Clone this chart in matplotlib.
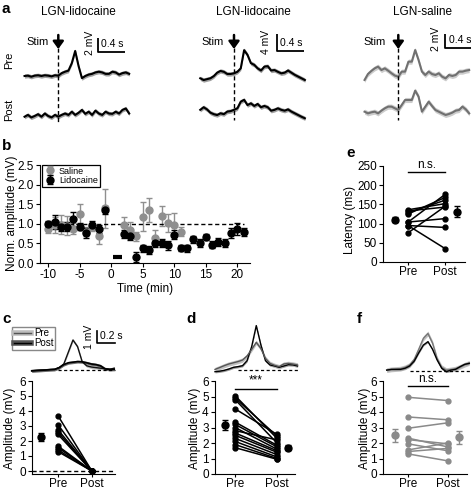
import matplotlib
matplotlib.use("Agg")
import matplotlib.pyplot as plt
import numpy as np
from matplotlib.lines import Line2D

plt.rcParams.update({
    "font.family": ["Liberation Sans", "DejaVu Sans"],
    "font.size": 8,
    "axes.unicode_minus": False,
    "axes.linewidth": 0.8,
    "xtick.major.width": 0.8,
    "ytick.major.width": 0.8,
    "xtick.major.size": 3,
    "ytick.major.size": 3,
    "xtick.major.pad": 1.5,
    "ytick.major.pad": 1.5,
})

W, H = 471, 493

# ── a: example traces (mV), sampled every 50 ms from -0.5 s ──────────────
t_a = np.arange(32) * 0.05 - 0.5
lido1_pre = [0, 0.05, -0.1, 0.05, 0.1, 0, 0.1, 0.05, -0.05, 0.1, 0.05, 0.4, 0.6, 0.75, 1.8, 3.5,
             1.4, -0.3, 0.0, 0.2, 0.3, 0.5, 0.6, 0.5, 0.3, 0.3, 0.6, 0.5, 0.2, 0.4, 0.5, 0.3]
lido1_post = [-0.1, 0.15, -0.2, 0, 0.25, -0.1, 0.35, 0, -0.2, 0.15, -0.1, 0.15, 0.35, 0.15, 0.6, 0.15,
              0.45, 0.85, 0.3, 0.6, 0.15, 0.75, 0.35, 0.15, 0.6, 0.35, 0.3, 0.6, 0.35, 0.85, 1.05, 0.35]
lido2_pre = [0, -0.4, -0.2, 0, 0.5, 1.3, 1.7, 1.5, 1.0, 1.0, 1.15, 1.5, 2.3, 6.5, 5.4, 3.5,
             3.1, 2.3, 1.8, 2.7, 2.8, 1.8, 1.9, 1.5, 1.15, 1.3, 1.8, 1.3, 0.8, 0.4, 0, -0.4]
lido2_post = [0.8, 1.4, 0.9, 0.15, -0.2, -0.4, 0, -0.2, 0.4, 0.5, 0.8, 1.15, 2.7, 3.1, 1.9, 2.3,
              1.7, 2.15, 1.4, 1.7, 1.4, 0.6, 0.8, 1.15, 0.8, 0.6, 0.9, 0.4, 0, -0.4, -0.8, -1.15]
sal_pre = [-0.62, 0.12, 0.5, 0.83, 1.04, 0.62, 0.83, 0.54, 0.21, -0.08, -0.21, 0.42, 0.42, 1.67, 1.67, 3.12,
           1.87, 0.42, 0, 0.42, 0.12, 0, 0.21, -0.21, -0.42, 0, -0.12, 0, 0.42, 0.42, 0.54, 0.62]
sal_post = [-0.21, -0.42, -0.29, -0.21, -0.42, -0.08, 0.21, 0.42, 0.42, 0.21, 0, 0.62, 1.25, 1.25, 1.25, 2.42,
            1.67, -0.21, 0.42, 1.04, 0.5, 0, -0.21, -0.42, -0.62, -0.5, -0.33, -0.08, 0, 0.42, 0.08, -0.42]

# ── b: time course ───────────────────────────────────────────────────────
t_sal = [-10, -9, -8, -7, -6, -5, -4, -3, -2, -1, 2, 3, 4, 5, 6, 7, 8, 9, 10, 11]
amp_sal = [0.88, 0.97, 0.98, 0.95, 0.88, 1.25, 0.8, 0.92, 0.68, 1.4, 0.98, 0.85, 0.68, 1.18, 1.35, 0.65,
           1.2, 1.03, 0.98, 0.8]
err_sal = [0.12, 0.2, 0.24, 0.24, 0.13, 0.26, 0.12, 0.1, 0.2, 0.5, 0.2, 0.19, 0.12, 0.37, 0.31, 0.2,
           0.25, 0.23, 0.3, 0.12]
t_lido = [-10, -9, -8, -7, -6, -5, -4, -3, -2, -1, 2, 3, 4, 5, 6, 7, 8, 9, 10, 11, 12, 13, 14, 15, 16,
          17, 18, 19, 20, 21]
amp_lido = [1.0, 1.05, 0.93, 0.93, 1.13, 0.93, 0.77, 0.98, 0.87, 1.35, 0.75, 0.68, 0.15, 0.37, 0.33, 0.5,
            0.52, 0.45, 0.72, 0.38, 0.37, 0.6, 0.52, 0.66, 0.47, 0.54, 0.5, 0.77, 0.86, 0.8]
err_lido = [0.08, 0.18, 0.12, 0.12, 0.18, 0.1, 0.12, 0.1, 0.1, 0.1, 0.1, 0.1, 0.12, 0.1, 0.1, 0.1,
            0.1, 0.12, 0.12, 0.07, 0.1, 0.1, 0.1, 0.08, 0.1, 0.1, 0.1, 0.12, 0.15, 0.1]
drug_on = (0.3, 1.7)

# ── c, d, f: average traces (mV) every 50 ms, and paired amplitudes ─────
t_in = np.arange(19) * 0.05
c_pre_tr = [-0.05, -0.03, 0, 0, 0.03, 0.05, 0.2, 0.5, 1.5, 2.5, 1.95, 0.7, 0.35, 0.25, 0.2, 0.15, 0.1, 0.05, 0.15]
c_post_tr = [-0.08, -0.05, -0.03, 0, 0.03, 0.05, 0.2, 0.45, 0.6, 0.65, 0.7, 0.68, 0.6, 0.5, 0.45, 0.35, 0.1, 0.05, 0.05]
d_pre_tr = [-0.14, -0.1, -0.03, 0.08, 0.22, 0.28, 0.36, 0.78, 1.95, 3.7, 2.1, 0.78, 0.42, 0.33, 0.22, 0.33,
            0.44, 0.42, 0.33]
d_post_tr = [0.05, 0.2, 0.36, 0.5, 0.6, 0.7, 0.83, 1.17, 1.72, 2.3, 1.8, 0.97, 0.55, 0.39, 0.28, 0.5, 0.55,
             0.5, 0.42]
f_pre_tr = [0.05, 0.11, 0.14, 0.17, 0.28, 0.47, 0.94, 1.8, 2.7, 3.1, 2.3, 1.0, 0.28, 0.05, 0.1, 0.17, 0.33,
            0.5, 0.65]
f_post_tr = [0.05, 0.11, 0.11, 0.11, 0.2, 0.39, 0.8, 1.5, 2.14, 2.42, 1.78, 0.89, 0.2, -0.08, 0.05, 0.11,
             0.33, 0.53, 0.61]

c_pre = [3.7, 3.1, 2.76, 2.6, 2.45, 1.67, 1.56, 1.41, 1.3]
c_post = [0, 0, 0, 0, 0, 0, 0, 0, 0]
d_pre = [5.05, 4.9, 4.8, 4.2, 3.35, 3.2, 3.0, 2.8, 2.65, 2.5, 2.3, 2.1, 1.9, 1.7]
d_post = [2.3, 2.45, 2.0, 2.55, 1.85, 1.75, 1.6, 2.2, 1.5, 1.4, 1.25, 1.1, 1.0, 0.95]
f_pre = [4.95, 3.68, 2.95, 2.32, 2.22, 1.95, 1.55, 1.45, 1.3]
f_post = [4.74, 3.5, 3.3, 1.75, 1.95, 1.5, 2.0, 1.65, 0.85]

# ── e: latency ───────────────────────────────────────────────────────────
e_pre = [136, 133, 128, 125, 104, 104, 95, 95, 76]
e_post = [152, 143, 161, 168, 176, 113, 90, 35, 145]

conditions = ["Pre", "Post"]

TICK_FS = 8.5
LABEL_FS = 8.5
ROW_TOP, ROW_BOT = 381, 474   # px extent of the c/d/f amplitude axes

fig = plt.figure(figsize=(W / 100, H / 100), dpi=100)


def px_axes(l, t, r, b):
    return fig.add_axes([l / W, 1 - b / H, (r - l) / W, (b - t) / H])


def px_text(x, y, s, **kw):
    fig.text(x / W, 1 - y / H, s, **kw)


def trace(ax, t, y, sem, lc, bc, lw):
    y = np.asarray(y, dtype=float)
    ax.fill_between(t, y - sem, y + sem, color=bc, lw=0)
    ax.plot(t, y, color=lc, lw=lw, solid_joinstyle="round")


# ── a ───────────────────────────────────────────────────────────────────
a_cols = [
    dict(box=(20, 25, 140, 125), stim=58.3, base=76, ppm=7.15, post=116, pre_y=lido1_pre,
         post_y=lido1_post, sem=0.3, lc="black", bc="#a0a0a0", mv="2 mV", bar_x=98, bar_y=52,
         mv_x=90, s_x=112.5, stim_x=37.5, dash_end=122, title="LGN-lidocaine", title_x=78),
    dict(box=(190, 25, 310, 125), stim=234, base=78.3, ppm=4.33, post=113.3, pre_y=lido2_pre,
         post_y=lido2_post, sem=0.5, lc="black", bc="#a0a0a0", mv="4 mV", bar_x=277, bar_y=51,
         mv_x=266, s_x=291, stim_x=213, dash_end=120, title="LGN-lidocaine", title_x=253),
    dict(box=(350, 25, 471, 125), stim=398.3, base=75, ppm=8.0, post=110, pre_y=sal_pre,
         post_y=sal_post, sem=0.32, lc="#707070", bc="#cccccc", mv="2 mV", bar_x=445, bar_y=48,
         mv_x=436, s_x=460, stim_x=375, dash_end=120, title="LGN-saline", title_x=422),
]
pps = 67.5  # px per second
for col in a_cols:
    l, t, r, b = col["box"]
    ax = px_axes(l, t, r, b)
    ax.axis("off")
    ax.set_xlim((l - col["stim"]) / pps, (r - col["stim"]) / pps)
    ax.set_ylim(-(b - col["base"]) / col["ppm"], (col["base"] - t) / col["ppm"])
    to_y = lambda py: (col["base"] - py) / col["ppm"]
    to_x = lambda px: (px - col["stim"]) / pps
    off = to_y(col["post"])
    trace(ax, t_a, col["pre_y"], col["sem"], col["lc"], col["bc"], 1.5)
    trace(ax, t_a, np.asarray(col["post_y"]) + off, col["sem"], col["lc"], col["bc"], 1.5)
    ax.plot([0, 0], [to_y(48), to_y(col["dash_end"])], color="black", lw=1, dashes=(3, 2))
    ax.annotate("", xy=(0, to_y(49)), xytext=(0, to_y(35)),
                arrowprops=dict(arrowstyle="-|>,head_width=0.4,head_length=0.55", lw=1.8, color="black",
                                shrinkA=0, shrinkB=0))
    ax.text(to_x(col["stim_x"]), to_y(42), "Stim", ha="center", va="center", fontsize=8)
    bx = to_x(col["bar_x"])
    bar_len = 14 if col["mv"] == "2 mV" else 17.3
    ax.plot([bx, bx, bx + 0.4], [to_y(col["bar_y"] - bar_len), to_y(col["bar_y"]), to_y(col["bar_y"])],
            color="black", lw=1.3, clip_on=False, solid_capstyle="butt")
    ax.text(to_x(col["mv_x"]), to_y(col["bar_y"] - 9), col["mv"], rotation=90, ha="center", va="center",
            fontsize=7.5)
    ax.text(to_x(col["s_x"]), to_y(col["bar_y"] - 8), "0.4 s", ha="center", va="center", fontsize=7.5)
    px_text(col["title_x"], 12, col["title"], ha="center", va="center", fontsize=8.5)

px_text(9, 60, "Pre", rotation=90, ha="center", va="center", fontsize=8)
px_text(9, 110, "Post", rotation=90, ha="center", va="center", fontsize=8)

# ── b ───────────────────────────────────────────────────────────────────
ax = px_axes(40, 165, 250, 263)
ax.errorbar(t_sal, amp_sal, yerr=err_sal, fmt="o", color="#8f8f8f", ms=5, capsize=2, elinewidth=1,
            capthick=1, label="Saline", clip_on=False)
ax.errorbar(t_lido, amp_lido, yerr=err_lido, fmt="o", color="black", ms=5, capsize=2, elinewidth=1,
            capthick=1, label="Lidocaine", clip_on=False)
ax.plot([-10, 21], [1, 1], color="black", lw=1, dashes=(3, 2))
ax.plot(drug_on, [0.15, 0.15], color="black", lw=3, solid_capstyle="butt")
ax.set_xlim(-11.3, 22)
ax.set_ylim(0, 2.5)
ax.set_xticks([-10, -5, 0, 5, 10, 15, 20])
ax.set_yticks([0, 0.5, 1.0, 1.5, 2.0, 2.5])
ax.set_yticklabels(["0.0", "0.5", "1.0", "1.5", "2.0", "2.5"])
ax.set_xlabel("Time (min)", labelpad=1, fontsize=LABEL_FS)
ax.spines[["top", "right"]].set_visible(False)
ax.tick_params(labelsize=TICK_FS)
leg = ax.legend(loc="upper left", bbox_to_anchor=(0.0, 1.02), fontsize=6.5, frameon=True, fancybox=False,
                edgecolor="black", framealpha=1, borderpad=0.2, labelspacing=0.05, handlelength=1.4,
                handletextpad=0.3, borderaxespad=0.2)
leg.get_frame().set_linewidth(0.9)
px_text(12, 213, "Norm. amplitude (mV)", rotation=90, ha="center", va="center", fontsize=LABEL_FS)


# ── paired panels ───────────────────────────────────────────────────────
def paired(ax, pre, post, color, xlim, ylim, mean_x, yticks):
    for a, b in zip(pre, post):
        ax.plot([1, 2], [a, b], color=color, lw=1.1, marker="o", ms=3.5, clip_on=False)
    for vals, mx in zip((pre, post), mean_x):
        if mx is None:
            continue
        v = np.asarray(vals, dtype=float)
        ax.errorbar([mx], [v.mean()], yerr=[v.std(ddof=1) / np.sqrt(len(v))], fmt="o", color=color,
                    ms=5, capsize=2, elinewidth=1, capthick=1)
    ax.set_xlim(*xlim)
    ax.set_ylim(*ylim)
    ax.set_xticks([1, 2])
    ax.set_xticklabels(conditions)
    ax.set_yticks(yticks)
    ax.spines[["top", "right"]].set_visible(False)
    ax.tick_params(labelsize=TICK_FS)
    ax.tick_params(axis="x", length=2.5, pad=0.5)


def inset(box, t0, base, pre_tr, post_tr, styles, dash):
    l, t, r, b = box
    ax = px_axes(l, t, r, b)
    ax.axis("off")
    ppx = 91.7
    ax.set_xlim((l - t0) / ppx, (r - t0) / ppx)
    ax.set_ylim(-(b - base) / 12, (base - t) / 12)
    ax.plot(dash, [0, 0], color="black", lw=0.9, dashes=(2.5, 2))
    for y, st in zip((pre_tr, post_tr), styles):
        trace(ax, t_in, y, *st)
    return ax


# c
ax = px_axes(32, ROW_TOP, 115, ROW_BOT)
ax.plot([0.24, 2.68], [0, 0], color="black", lw=1, dashes=(3, 2), clip_on=False)
paired(ax, c_pre, c_post, "black", (0.24, 2.68), (-0.2, 6), (0.5, None), range(7))
px_text(10, 428, "Amplitude (mV)", rotation=90, ha="center", va="center", fontsize=LABEL_FS)
ax_in = inset((10, 315, 130, 380), 31.7, 370, c_pre_tr, c_post_tr,
              [(0.12, "#111111", "#bdbdbd", 1.0), (0.12, "black", "#6d6d6d", 1.2)], (0.29, 0.91))
ax_in.plot([0.712, 0.712, 0.912], [3.25, 2.25, 2.25], color="black", lw=1.2)
ax_in.text(0.625, 2.75, "1 mV", rotation=90, ha="center", va="center", fontsize=7.5)
ax_in.text(0.865, 2.85, "0.2 s", ha="center", va="center", fontsize=7.5)
h_pre = (Line2D([], [], color="#bdbdbd", lw=4), Line2D([], [], color="#555555", lw=1))
h_post = (Line2D([], [], color="#555555", lw=4), Line2D([], [], color="black", lw=1))
ax_in.legend([h_pre, h_post], conditions, loc="upper left", bbox_to_anchor=(0.02, 0.82), fontsize=7,
             fancybox=False, edgecolor="#888888", framealpha=1, borderpad=0.15, labelspacing=0.0,
             handlelength=1.8, handletextpad=0.3, borderaxespad=0.0)

# d
ax = px_axes(215, ROW_TOP, 295, ROW_BOT)
paired(ax, d_pre, d_post, "black", (0.52, 2.43), (0, 6), (0.76, 2.26), range(7))
ax.plot([1, 2], [5.5, 5.5], color="black", lw=1, clip_on=False)
ax.text(1.5, 5.62, "***", ha="center", va="bottom", fontsize=8.5)
px_text(195, 428, "Amplitude (mV)", rotation=90, ha="center", va="center", fontsize=LABEL_FS)
inset((200, 315, 310, 380), 215, 370, d_pre_tr, d_post_tr,
      [(0.1, "black", "#9a9a9a", 1.0), (0.18, "#555555", "#c0c0c0", 1.0)], (0.254, 0.909))

# e
ax = px_axes(383, 166, 465, 262)
paired(ax, e_pre, e_post, "black", (0.32, 2.54), (0, 250), (0.65, 2.32), range(0, 251, 50))
ax.plot([1, 2], [234, 234], color="black", lw=1, clip_on=False)
ax.text(1.5, 237, "n.s.", ha="center", va="bottom", fontsize=8.5)
px_text(350, 220, "Latency (ms)", rotation=90, ha="center", va="center", fontsize=LABEL_FS)

# f
ax = px_axes(383, ROW_TOP, 467, ROW_BOT)
paired(ax, f_pre, f_post, "#8a8a8a", (0.375, 2.49), (0, 6), (0.675, 2.28), range(7))
ax.plot([1, 2], [5.65, 5.65], color="black", lw=1, clip_on=False)
ax.text(1.5, 5.72, "n.s.", ha="center", va="bottom", fontsize=8.5)
px_text(365, 428, "Amplitude (mV)", rotation=90, ha="center", va="center", fontsize=LABEL_FS)
inset((375, 315, 471, 380), 386.7, 370.7, f_pre_tr, f_post_tr,
      [(0.2, "#777777", "#c0c0c0", 1.0), (0.08, "black", "#9a9a9a", 1.0)], (0.254, 0.91))

# panel letters
for s, x, y in [("a", 2, 2), ("b", 2, 139), ("c", 2, 312), ("d", 186, 312), ("e", 346, 146), ("f", 357, 312)]:
    px_text(x, y, s, fontsize=11, fontweight="bold", ha="left", va="top")

fig.savefig("out.png", dpi=100)
